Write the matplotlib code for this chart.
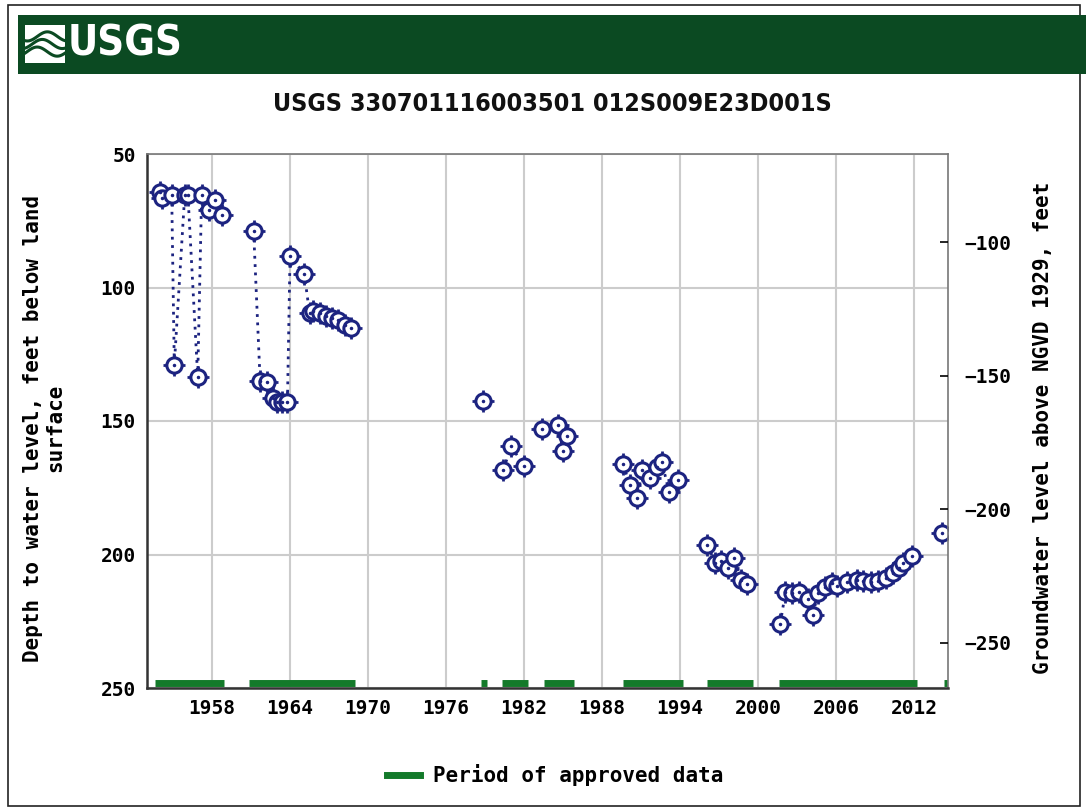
import numpy as np
import matplotlib
matplotlib.use('Agg')
from matplotlib import pyplot as plt
from matplotlib.patches import Rectangle
from matplotlib.lines import Line2D

years = [1954.0, 1954.15, 1954.9, 1955.1, 1955.9, 1956.15, 1956.9, 1957.2, 1957.8, 1958.2, 1958.8,
         1961.2, 1961.7, 1962.2, 1962.7, 1963.0, 1963.4, 1963.8, 1964.0, 1965.1, 1965.5, 1965.8,
         1966.3, 1966.8, 1967.2, 1967.7, 1968.2, 1968.7,
         1978.85, 1980.4, 1981.0, 1982.0, 1983.4, 1984.6, 1985.0, 1985.3,
         1989.6, 1990.15, 1990.7, 1991.1, 1991.7, 1992.2, 1992.6, 1993.15, 1993.8,
         1996.1, 1996.7, 1997.15, 1997.7, 1998.15, 1998.7, 1999.15,
         2001.7, 2002.1, 2002.6, 2003.15, 2003.8, 2004.2, 2004.6, 2005.15, 2005.7, 2006.1,
         2006.85, 2007.6, 2008.1, 2008.7, 2009.2, 2009.8, 2010.4, 2010.8, 2011.15, 2011.8,
         2014.15]
depths = [64.2, 66.5, 65.4, 129.0, 65.4, 65.4, 133.5, 65.4, 71.0, 67.2, 72.8,
          78.8, 135.0, 135.4, 141.4, 143.0, 143.0, 143.0, 88.2, 95.0, 109.6, 108.8,
          109.6, 110.7, 111.4, 112.2, 114.0, 115.2,
          142.5, 168.4, 159.4, 166.9, 153.0, 151.6, 161.2, 155.6,
          166.1, 174.0, 178.8, 168.4, 171.3, 167.2, 165.4, 176.6, 172.1,
          196.4, 203.2, 202.4, 205.0, 201.3, 209.6, 211.0,
          226.0, 214.0, 214.4, 214.0, 216.7, 222.7, 214.4, 212.2, 210.7, 211.8,
          210.3, 209.6, 210.0, 210.3, 210.0, 208.8, 207.0, 205.0, 203.2, 200.6,
          192.0]

approved_start = [1953.6, 1960.85, 1978.7, 1980.3, 1983.5, 1989.6, 1996.1, 2001.6, 2014.3]
approved_end = [1958.9, 1969.0, 1979.15, 1982.3, 1985.8, 1994.2, 1999.6, 2012.2, 2014.7]

x_ticks = [1958, 1964, 1970, 1976, 1982, 1988, 1994, 2000, 2006, 2012]
y_ticks = [50, 100, 150, 200, 250]
elev_ticks = [-100, -150, -200, -250]
LAND_SURFACE = -17.0   # ft NGVD 1929
MAX_GAP = 1.15         # years; larger gaps are not joined

NAVY = '#1c2380'
GREEN = '#137a2a'
HEADER = '#0b4a22'
MONO = 'DejaVu Sans Mono'
W, H = 1086, 810

def fx(px): return px / W
def fy(py): return 1 - py / H

fig = plt.figure(figsize=(W / 100, H / 100), dpi=100)

# outer frame + header band
fig.patches.append(Rectangle((fx(8), fy(806)), fx(1080) - fx(8), fy(5) - fy(806),
                             transform=fig.transFigure, fill=False, ec='#222222', lw=1.2))
fig.patches.append(Rectangle((fx(18), fy(74)), 1 - fx(18), fy(15) - fy(74),
                             transform=fig.transFigure, fc=HEADER, ec='none'))
# little logo mark
fig.patches.append(Rectangle((fx(25), fy(63)), fx(40), fy(25) - fy(63),
                             transform=fig.transFigure, fc='white', ec='none'))
t = np.linspace(0, 1, 50)
for off in [0.3, 0.5, 0.7]:
    fig.add_artist(Line2D(fx(25 + 40 * t), fy(25 + 38 * (off + 0.12 * np.sin(2 * np.pi * t + off * 4))),
                          transform=fig.transFigure, color=HEADER, lw=2.2))

title_font = dict(family='DejaVu Sans', fontweight='bold', stretch='condensed')
fig.text(fx(68), fy(44), 'USGS', color='white', fontsize=30,
         ha='left', va='center', **title_font)
fig.text(fx(552), fy(104), 'USGS 330701116003501 012S009E23D001S',
         fontsize=18, ha='center', va='center', color='#111111', **title_font)

ax = fig.add_axes([fx(147), fy(688), fx(948) - fx(147), fy(154) - fy(688)])
ax.set_xlim(1953.0, 2014.6)
ax.set_ylim(250, 50)
ax.set_xticks(x_ticks)
ax.set_yticks(y_ticks)
ax.grid(True, color='#cccccc', lw=1.5)
ax.set_axisbelow(True)
ax.tick_params(length=0, labelsize=14, pad=8)
for lab in ax.get_xticklabels() + ax.get_yticklabels():
    lab.set_family(MONO)
    lab.set_fontweight('bold')
for name, sp in ax.spines.items():
    sp.set_color('#333333' if name in ('left', 'bottom') else '#777777')
    sp.set_linewidth(1.8 if name in ('left', 'bottom') else 1.2)

# dotted connectors, broken at long gaps
yrs = np.array(years)
dep = np.array(depths)
breaks = np.where(np.diff(yrs) > MAX_GAP)[0] + 1
for seg_x, seg_y in zip(np.split(yrs, breaks), np.split(dep, breaks)):
    if len(seg_x) > 1:
        ax.plot(seg_x, seg_y, color=NAVY, lw=2, linestyle=(0, (1, 2)))

# approved periods
for s, e in zip(approved_start, approved_end):
    ax.plot([s, e], [248, 248], color=GREEN, lw=5, solid_capstyle='butt')

ax.plot(years, depths, linestyle='none', marker='+', ms=16, mew=2, color=NAVY)
ax.plot(years, depths, linestyle='none', marker='o', ms=11, mfc='white', mec=NAVY, mew=2.2)
ax.plot(years, depths, linestyle='none', marker='.', ms=3, color=NAVY)

ax2 = ax.twinx()
ax2.set_ylim(LAND_SURFACE - 250, LAND_SURFACE - 50)
ax2.set_yticks(elev_ticks)
ax2.tick_params(direction='in', length=6, width=1.2, labelsize=14, pad=12)
for lab in ax2.get_yticklabels():
    lab.set_family(MONO)
    lab.set_fontweight('bold')
for sp in ax2.spines.values():
    sp.set_visible(False)

fig.text(fx(44), fy(428), 'Depth to water level, feet below land\nsurface', rotation=90,
         ha='center', va='center', multialignment='center', fontsize=15,
         family=MONO, fontweight='bold', linespacing=1.1)
fig.text(fx(1043), fy(428), 'Groundwater level above NGVD 1929, feet', rotation=90,
         ha='center', va='center', fontsize=15, family=MONO, fontweight='bold')

fig.legend(handles=[Line2D([], [], color=GREEN, lw=5)], labels=['Period of approved data'],
           loc='center', bbox_to_anchor=(fx(555), fy(775)), frameon=False,
           handlelength=1.6, handletextpad=0.6,
           prop={'family': MONO, 'weight': 'bold', 'size': 15})

fig.savefig('out.png', dpi=100)
